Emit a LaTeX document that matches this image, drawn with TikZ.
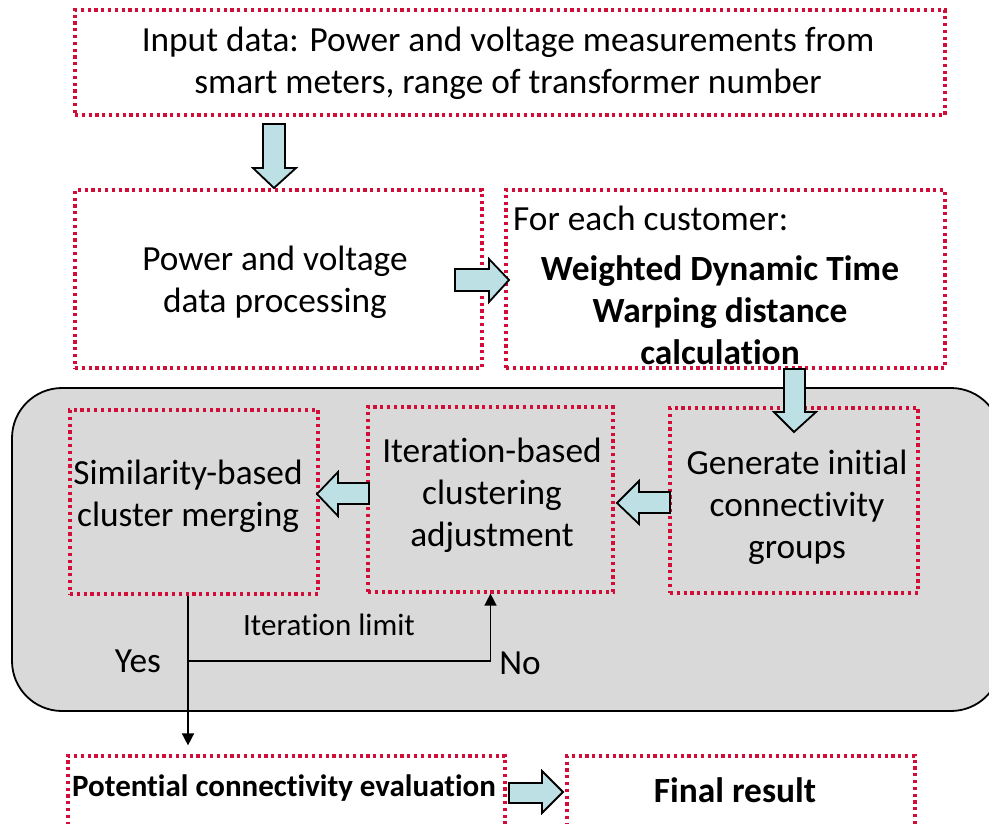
\documentclass[tikz,border=0pt]{standalone}
\usepackage{fontspec}
\setmainfont{Carlito}[Ligatures=NoCommon]
\usetikzlibrary{arrows.meta}
\definecolor{boxred}{RGB}{210,14,56}
\definecolor{arrowblue}{RGB}{188,224,228}
\definecolor{panelgray}{RGB}{217,217,217}
\begin{document}
\begin{tikzpicture}[x=1pt,y=-1pt,
  dotbox/.style={draw=boxred, line width=3.2pt, dash pattern=on 3.2pt off 3.6pt, inner sep=0pt},
  txt/.style={font=\fontsize{35.3}{42}\selectfont, align=center, inner sep=0pt},
  btxt/.style={font=\fontsize{35.4}{42}\selectfont\bfseries, align=center, inner sep=0pt},
  blockarrow/.style={fill=arrowblue, draw=black, line width=1.8pt, line join=miter},
  conn/.style={draw=black, line width=1.5pt, -{Triangle[length=12pt,width=12pt]}},
  plain/.style={draw=black, line width=1.5pt}]
\useasboundingbox (0,0) rectangle (989,823);
\clip (0,0) rectangle (989,823);

% grey panel around the clustering stage
\filldraw[fill=panelgray, draw=black, line width=1.8pt, rounded corners=50pt]
  (12,388) rectangle (1001,711);

% process boxes
\node[dotbox, minimum width=870, minimum height=105] (input) at (510,62.5) {};
\node[dotbox, minimum width=407, minimum height=178] (proc) at (278.5,279) {};
\node[dotbox, minimum width=439, minimum height=178] (wdtw) at (725.5,279) {};
\node[dotbox, minimum width=248, minimum height=184] (merge) at (194,502) {};
\node[dotbox, minimum width=245, minimum height=185] (iter) at (490.5,499.5) {};
\node[dotbox, minimum width=248, minimum height=185] (gen) at (794,500.5) {};
\node[dotbox, minimum width=437, minimum height=94] (eval) at (286.5,803) {};
\node[dotbox, minimum width=348, minimum height=94] (final) at (741,803) {};

% box texts
\node[txt] (tinput) at (508,63) {Input data: Power and voltage measurements from\\smart meters, range of transformer number};
\node[txt] (tproc) at (275,282) {Power and voltage\\data processing};
\node[txt, anchor=west] (tcust) at (513,218) {For each customer:};
\node[btxt] (twdtw) at (720,310) {Weighted Dynamic Time\\Warping distance\\calculation};
\node[txt] (tmerge) at (188,496) {Similarity-based\\cluster merging};
\node[txt] (titer) at (492,495) {Iteration-based\\clustering\\adjustment};
\node[txt] (tgen) at (797,507) {Generate initial\\connectivity\\groups};
\node[btxt, font=\fontsize{31}{36}\selectfont\bfseries] (teval) at (284,788) {Potential connectivity evaluation};
\node[btxt] (tfinal) at (735,790) {Final result};

% block arrows between the stages
\filldraw[blockarrow] (263,124) -- (285,124) -- (285,168) -- (296,168) -- (274,188)
  -- (253,168) -- (263,168) -- cycle;
\filldraw[blockarrow] (455,269) -- (489,269) -- (489,259) -- (509,280) -- (489,302)
  -- (489,291) -- (455,291) -- cycle;
\filldraw[blockarrow] (784,369) -- (805,369) -- (805,412) -- (816,412) -- (794,432)
  -- (774,412) -- (784,412) -- cycle;
\filldraw[blockarrow] (670,492) -- (639,492) -- (639,481) -- (617,503) -- (639,524)
  -- (639,513) -- (670,513) -- cycle;
\filldraw[blockarrow] (369,483) -- (338,483) -- (338,472) -- (317,494) -- (338,516)
  -- (338,504) -- (369,504) -- cycle;
\filldraw[blockarrow] (509,783) -- (542,783) -- (542,771) -- (563,792) -- (542,813)
  -- (542,803) -- (509,803) -- cycle;

% iteration loop connectors
\coordinate (split) at (188,661);
\draw[conn] ([xshift=-6pt]merge.south) -- ([xshift=-6pt,yshift=9pt]merge.south |- eval.north);
\draw[conn] (split) -- (split -| iter.south) -- (iter.south);

% loop labels
\node[txt, font=\fontsize{31}{36}\selectfont] (tlimit) at (329,625) {Iteration limit};
\node[txt] (tyes) at (138,661) {Yes};
\node[txt] (tno) at (520,663) {No};
\end{tikzpicture}
\end{document}
